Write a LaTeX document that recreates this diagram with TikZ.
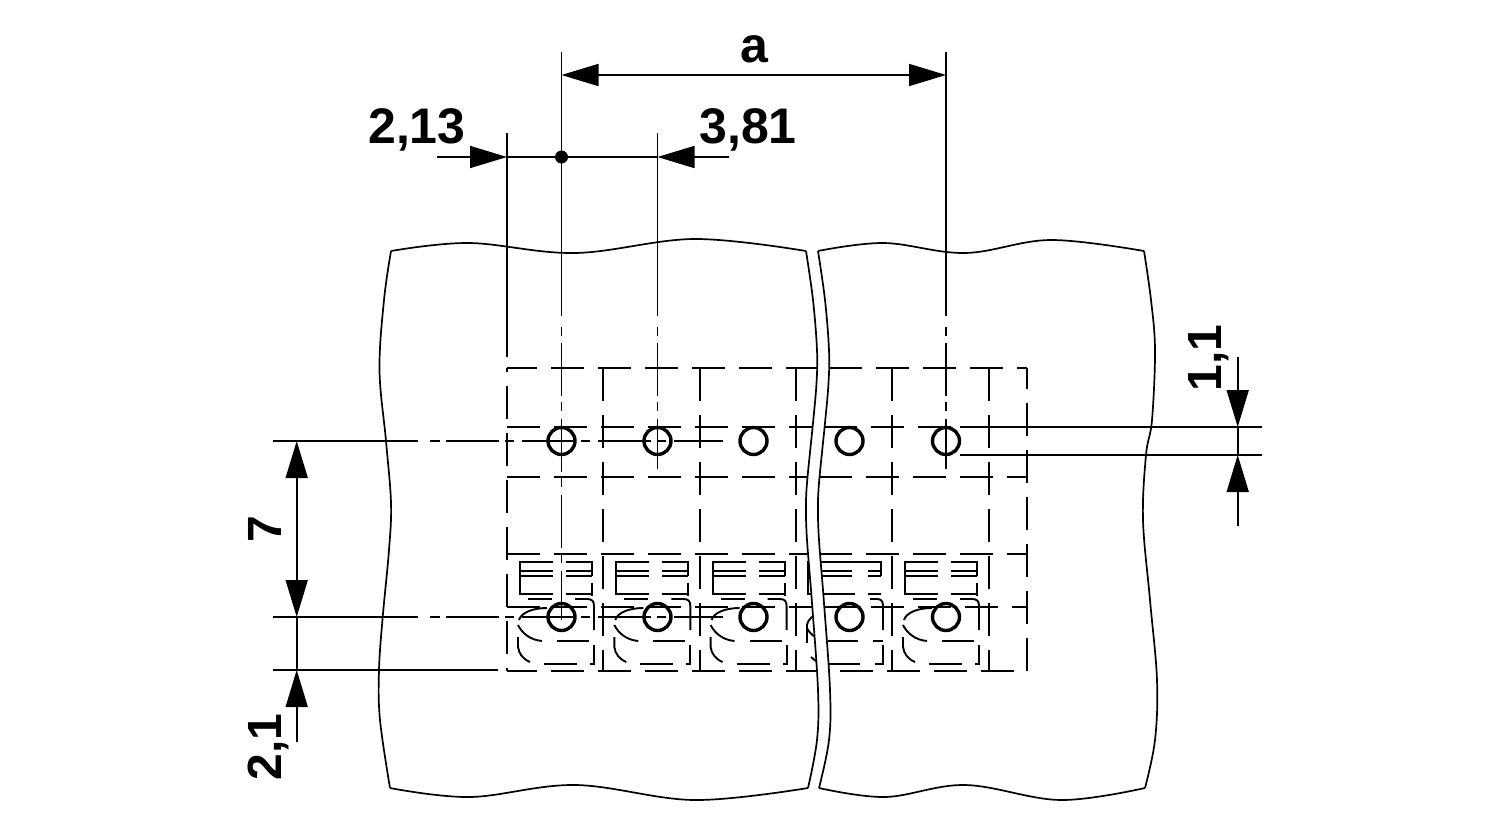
\documentclass[tikz,border=0pt]{standalone}
\usepackage{fontspec}
\setmainfont{Liberation Sans}
\usetikzlibrary{arrows.meta}
\tikzset{
    ext/.style={line width=0.85pt},
    dimline/.style={line width=0.85pt,{Triangle[length=18.5pt,width=11pt]}-{Triangle[length=18.5pt,width=11pt]}},
    dimtip/.style={line width=0.85pt,-{Triangle[length=18.5pt,width=11pt]}},
    plate/.style={line width=0.85pt,line join=miter},
    hidden/.style={line width=1pt,dash pattern=on 16.5pt off 7pt},
    detail/.style={line width=0.95pt},
    axisline/.style={line width=0.9pt,dash pattern=on 26.5pt off 3pt on 4.5pt off 4pt},
    hole/.style={line width=1.7pt,fill=none},
    dimtext/.style={inner sep=0pt,font=\bfseries\fontsize{24}{28}\selectfont},
    widetext/.style={inner sep=0pt,font=\bfseries\fontsize{25}{28}\selectfont}
}
\begin{document}
\begin{tikzpicture}[x=0.5pt,y=-0.5pt]
    \useasboundingbox (0,0) rectangle (1500,820);

    % hidden outline, rows
    \foreach \y/\ph/\xr/\xe in {368/1.5pt/829/1027,427/0pt/824/1027,477/0pt/819/1027,554/0pt/819/1027,607/0pt/824/1027,670.5/1.5pt/840/1014} {
        \draw[hidden,dash phase=\ph] (507,\y) -- (821,\y);
        \draw[hidden] (\xr,\y) -- (\xe,\y);
    }
    % hidden outline, columns
    \foreach \x in {603,700,796,892,989}
        \draw[hidden] (\x,368) -- (\x,670.5);
    \draw[hidden] (507,386) -- (507,670.5);
    \draw[detail] (507,367.5) -- (507,372);
    \draw[hidden,dash phase=6pt] (1027,368) -- (1027,670.5);

    % contacts
    \foreach \dx in {0,96.3,192.6,385} {
        \draw[detail] (553+\dx,562) -- (520+\dx,562) -- (520+\dx,594) -- (553+\dx,594);
        \draw[detail] (520+\dx,571) -- (553+\dx,571);
        \draw[detail] (520+\dx,576) -- (553+\dx,576);
        \draw[detail] (566+\dx,562) -- (592+\dx,562) -- (592+\dx,576);
        \draw[detail] (566+\dx,571) -- (592+\dx,571);
        \draw[detail] (566+\dx,576) -- (592+\dx,576);
        \draw[detail] (566+\dx,594) -- (592+\dx,594);
        \draw[detail] (592+\dx,583) -- (592+\dx,596);
        \draw[detail] (528+\dx,599) -- (552+\dx,599);
        \draw[detail] (575+\dx,599) -- (587+\dx,599) .. controls (592+\dx,599) and (594+\dx,601) .. (594+\dx,606) -- (594+\dx,630);
        \draw[detail] (594+\dx,645) -- (594+\dx,664) -- (590+\dx,664);
        \draw[detail] (547+\dx,608) .. controls (532+\dx,608) and (521+\dx,613) .. (519+\dx,620);
        \draw[detail] (518+\dx,625) .. controls (522+\dx,633) and (530+\dx,640) .. (542+\dx,641);
        \draw[detail] (518+\dx,637) -- (518+\dx,647) .. controls (519+\dx,654) and (523+\dx,659) .. (530+\dx,662);
        \draw[detail] (557+\dx,641) -- (589+\dx,641);
        \draw[detail] (544+\dx,664) -- (577+\dx,664);
    }
    % contact behind the break
    \draw[detail] (852,562) -- (808,562) -- (808,594) -- (855,594);
    \draw[detail] (808,571) -- (852,571);
    \draw[detail] (808,576) -- (852,576);
    \draw[detail] (850,562) -- (881,562) -- (881,576);
    \draw[detail] (868,571) -- (881,571);
    \draw[detail] (868,576) -- (881,576);
    \draw[detail] (868,594) -- (881,594);
    \draw[detail] (870,599) -- (877,599) .. controls (881,599) and (883,601) .. (883,606) -- (883,630);
    \draw[detail] (883,645) -- (883,664) -- (875,664) ;
    \draw[detail] (828,641) -- (858,641);
    \draw[detail] (873,641) -- (883,641);
    \draw[detail] (828,664) -- (860,664);
    \draw[detail] (815,615) .. controls (809,618) and (806,624) .. (807,628) .. controls (808,631) and (811,634) .. (815,637);
    \draw[detail] (807,628) -- (807,643);
    \draw[detail] (811,657) -- (817,662);

    % break between the plates
    \fill[white] plot[smooth,tension=0.6] coordinates {(806,251) (813,300) (817,350) (816.5,383) (813,423) (807,483) (806,510) (807,540) (812,603) (818,690) (817,740) (808,788)}
        -- plot[smooth,tension=0.6] coordinates {(819,788) (829,740) (830,690) (824,603) (819,540) (818,510) (819,483) (825,423) (828.5,383) (829,350) (825,300) (818,251)} -- cycle;

    % left plate
    \draw[plate] plot[smooth,tension=0.6] coordinates {(391,251) (469,243) (575,253) (694,239) (806,251)};
    \draw[plate] plot[smooth,tension=0.6] coordinates {(806,251) (813,300) (817,350) (816.5,383) (813,423) (807,483) (806,510) (807,540) (812,603) (818,690) (817,740) (808,788)};
    \draw[plate] plot[smooth,tension=0.6] coordinates {(808,788) (694,800) (575,785) (470,797) (390,788)};
    \draw[plate] plot[smooth,tension=0.6] coordinates {(390,788) (380,720) (379,670) (382.7,617) (389,550) (391,503) (386,441) (379.5,370) (384,300) (391,251)};

    % right plate
    \draw[plate] plot[smooth,tension=0.6] coordinates {(818,251) (884,243) (965,253) (1050,240) (1144,251)};
    \draw[plate] plot[smooth,tension=0.6] coordinates {(1144,251) (1151,300) (1155,350) (1152,420) (1146,455) (1143,520) (1150,600) (1157,680) (1155,740) (1145,788)};
    \draw[plate] plot[smooth,tension=0.6] coordinates {(1145,788) (1060,800) (965,785) (885,797) (819,788)};
    \draw[plate] plot[smooth,tension=0.6] coordinates {(819,788) (829,740) (830,690) (824,603) (819,540) (818,510) (819,483) (825,423) (828.5,383) (829,350) (825,300) (818,251)};

    % axis lines
    \foreach \x/\ytop/\yend in {561.5/52/620,657.5/133/469,946/52/469} {
        \draw[ext] (\x,\ytop) -- (\x,316);
        \draw[ext] (\x,327) -- (\x,336);
        \draw[axisline] (\x,343) -- (\x,\yend);
    }
    \foreach \y in {441,617} {
        \draw[ext] (273,\y) -- (418,\y);
        \draw[ext] (430,\y) -- (440,\y);
        \draw[axisline] (446,\y) -- (723,\y);
    }

    % holes
    \foreach \x in {561.5,657.5,753.5,849.5,946}
        \foreach \y in {441,617}
            \draw[hole] (\x,\y) circle (13.5);

    % dimension a
    \coordinate (aleft) at (561.5,75);
    \coordinate (aright) at (946,75);
    \draw[dimline] (aleft) -- (aright);
    \node[widetext,anchor=base] (alabel) at (754,62) {a};

    % pitch dimensions
    \draw[ext] (507,133) -- (507,357);
    \coordinate (pstart) at (437,157);
    \coordinate (pa) at (507,157);
    \coordinate (pb) at (657.5,157);
    \coordinate (pend) at (729,157);
    \draw[dimtip] (pstart) -- (pa);
    \draw[ext] (pa) -- (pb);
    \draw[dimtip] (pend) -- (pb);
    \node[circle,fill=black,inner sep=0pt,minimum size=6.5pt] (pdot) at (561.5,157) {};
    \node[widetext,anchor=base east] (plabel) at (466,143) {2,13};
    \node[widetext,anchor=base west] (qlabel) at (699,143) {3,81};

    % dimensions on the left
    \draw[ext] (273,670) -- (498,670);
    \coordinate (va) at (296.7,441);
    \coordinate (vb) at (296.7,617);
    \coordinate (vc) at (296.7,670);
    \coordinate (vd) at (296.7,742);
    \draw[dimline] (va) -- (vb);
    \draw[ext] (vb) -- (vc);
    \draw[dimtip] (vd) -- (vc);
    \node[dimtext,anchor=base,rotate=90] (vlabel) at (281,529) {7};
    \node[dimtext,anchor=base,rotate=90] (wlabel) at (281,747) {2,1};

    % dimension on the right
    \draw[ext] (960,427) -- (1262,427);
    \draw[ext] (960,455) -- (1262,455);
    \coordinate (ra) at (1237.7,357);
    \coordinate (rb) at (1237.7,427);
    \coordinate (rc) at (1237.7,455);
    \coordinate (rd) at (1237.7,526);
    \draw[dimtip] (ra) -- (rb);
    \draw[ext] (rb) -- (rc);
    \draw[dimtip] (rd) -- (rc);
    \node[dimtext,anchor=base,rotate=90] (rlabel) at (1221,358) {1,1};
\end{tikzpicture}
\end{document}
